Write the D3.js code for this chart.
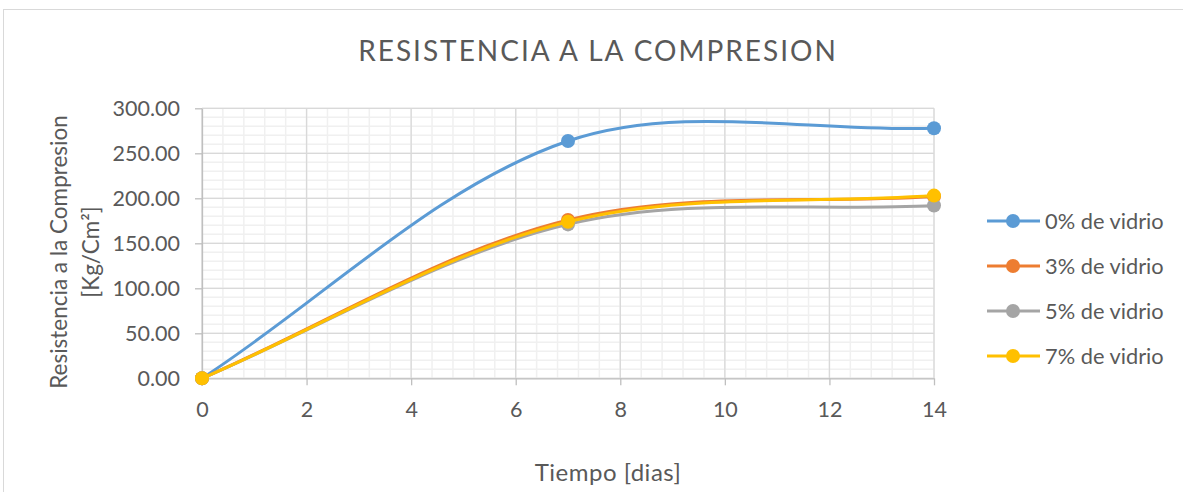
<!DOCTYPE html>
<html>
<head>
<meta charset="utf-8">
<script src="https://cdn.jsdelivr.net/npm/d3@7"></script>
<style>
  body { margin: 0; background: #fff; }
  text { font-family: Lato, 'Open Sans', sans-serif; fill: #595959; }
</style>
</head>
<body>
<div id="chart"></div>
<script>
// data
const dias = [0, 7, 14];
const vidrio0 = [0, 263.7, 277.8];
const vidrio3 = [0, 176, 202];
const vidrio5 = [0, 171, 192];
const vidrio7 = [0, 174, 203];
const seriesNames = ['0% de vidrio', '3% de vidrio', '5% de vidrio', '7% de vidrio'];
const seriesColors = ['#5B9BD5', '#ED7D31', '#A5A5A5', '#FFC000'];
const xTicks = [0, 2, 4, 6, 8, 10, 12, 14];
const yTicks = [0, 50, 100, 150, 200, 250, 300];

const width = 1183;
const height = 492;
const plot = { left: 202, right: 934, top: 108.3, bottom: 378.3 };

// spreadsheet-style smoothing: bezier control points scaled by chord lengths
function curveSmooth(context) {
  let pts;
  return {
    areaStart() {}, areaEnd() {},
    lineStart() { pts = []; },
    point(x, y) { pts.push([+x, +y]); },
    lineEnd() {
      const n = pts.length;
      if (!n) return;
      context.moveTo(pts[0][0], pts[0][1]);
      const f = 1 / 3;
      const dist = (a, b) => Math.hypot(b[0] - a[0], b[1] - a[1]);
      for (let i = 0; i < n - 1; i++) {
        const p0 = pts[i - 1] || pts[i], p1 = pts[i], p2 = pts[i + 1], p3 = pts[i + 2] || pts[i + 1];
        const d01 = dist(p0, p1), d12 = dist(p1, p2), d23 = dist(p2, p3);
        const s1 = f * d12 / (d01 + d12), s2 = f * d12 / (d12 + d23);
        context.bezierCurveTo(
          p1[0] + (p2[0] - p0[0]) * s1, p1[1] + (p2[1] - p0[1]) * s1,
          p2[0] - (p3[0] - p1[0]) * s2, p2[1] - (p3[1] - p1[1]) * s2,
          p2[0], p2[1]);
      }
    }
  };
}

const svg = d3.select('#chart')
  .append('svg')
  .attr('width', width)
  .attr('height', height);

// chart frame
svg.append('rect')
  .attr('x', 3.5).attr('y', 9.5)
  .attr('width', width + 10).attr('height', height + 10)
  .attr('fill', 'none')
  .attr('stroke', '#d9d9d9');

const xScale = d3.scaleLinear().domain([0, 14]).range([plot.left, plot.right]);
const yScale = d3.scaleLinear().domain([0, 300]).range([plot.bottom, plot.top]);

// minor grid
const grid = svg.append('g');
grid.selectAll('.vminor')
  .data(d3.range(0, 14.001, 0.4))
  .enter().append('line')
  .attr('x1', d => xScale(d)).attr('x2', d => xScale(d))
  .attr('y1', plot.top).attr('y2', plot.bottom)
  .attr('stroke', '#f0f0f0').attr('stroke-width', 1.5);
grid.selectAll('.hminor')
  .data(d3.range(0, 301, 10))
  .enter().append('line')
  .attr('y1', d => yScale(d)).attr('y2', d => yScale(d))
  .attr('x1', plot.left).attr('x2', plot.right)
  .attr('stroke', '#f0f0f0').attr('stroke-width', 1.5);

// major grid
grid.selectAll('.vmajor')
  .data(xTicks)
  .enter().append('line')
  .attr('x1', d => xScale(d)).attr('x2', d => xScale(d))
  .attr('y1', plot.top).attr('y2', plot.bottom)
  .attr('stroke', '#d9d9d9').attr('stroke-width', 1.3);
grid.selectAll('.hmajor')
  .data(yTicks)
  .enter().append('line')
  .attr('y1', d => yScale(d)).attr('y2', d => yScale(d))
  .attr('x1', plot.left).attr('x2', plot.right)
  .attr('stroke', '#d9d9d9').attr('stroke-width', 1.3);

// axes
const xAxis = svg.append('g')
  .attr('transform', `translate(0, ${plot.bottom})`)
  .call(d3.axisBottom(xScale).tickValues(xTicks).tickSize(7).tickSizeOuter(0).tickPadding(16));
const yAxis = svg.append('g')
  .attr('transform', `translate(${plot.left}, 0)`)
  .call(d3.axisLeft(yScale).tickValues(yTicks).tickSize(7).tickSizeOuter(0).tickPadding(15)
    .tickFormat(d3.format('.2f')));

[xAxis, yAxis].forEach(ax => {
  ax.select('.domain').attr('stroke', '#bfbfbf').attr('stroke-width', 1.3);
  ax.selectAll('.tick line').attr('stroke', '#bfbfbf').attr('stroke-width', 1.3);
  ax.selectAll('.tick text')
    .style('font-family', 'Lato, sans-serif')
    .style('font-size', '21.5px')
    .attr('fill', '#595959');
});
yAxis.selectAll('.tick text').attr('dy', '0.35em');

// series
const allSeries = [vidrio0, vidrio3, vidrio5, vidrio7];
const line = d3.line()
  .x((d, i) => xScale(dias[i]))
  .y(d => yScale(d))
  .curve(curveSmooth);

allSeries.forEach((vals, s) => {
  svg.append('path')
    .datum(vals)
    .attr('d', line)
    .attr('fill', 'none')
    .attr('stroke', seriesColors[s])
    .attr('stroke-width', 3)
    .attr('stroke-linecap', 'round');
  svg.selectAll('.dot' + s)
    .data(vals)
    .enter().append('circle')
    .attr('cx', (d, i) => xScale(dias[i]))
    .attr('cy', d => yScale(d))
    .attr('r', 7)
    .attr('fill', seriesColors[s]);
});

// title
svg.append('text')
  .attr('x', 598).attr('y', 61)
  .style('text-anchor', 'middle')
  .style('font-size', '28px')
  .style('letter-spacing', '2px')
  .text('RESISTENCIA A LA COMPRESION');

// axis titles
svg.append('text')
  .attr('x', 608).attr('y', 481)
  .style('text-anchor', 'middle')
  .style('font-size', '24px')
  .style('letter-spacing', '0.5px')
  .text('Tiempo [dias]');

const yTitle = svg.append('text')
  .attr('transform', 'translate(67, 252) rotate(-90)')
  .style('text-anchor', 'middle')
  .style('font-size', '22.5px');
yTitle.append('tspan').attr('x', 0).attr('y', 0).text('Resistencia a la Compresion');
yTitle.append('tspan').attr('x', 0).attr('y', 32).text('[Kg/Cm²]');

// legend
const legend = svg.append('g');
seriesNames.forEach((name, i) => {
  const ly = 221 + i * 45;
  legend.append('line')
    .attr('x1', 987).attr('x2', 1040).attr('y1', ly).attr('y2', ly)
    .attr('stroke', seriesColors[i]).attr('stroke-width', 3);
  legend.append('circle')
    .attr('cx', 1013).attr('cy', ly).attr('r', 7)
    .attr('fill', seriesColors[i]);
  legend.append('text')
    .attr('x', 1045).attr('y', ly)
    .attr('dy', '0.35em')
    .style('font-size', '21.8px')
    .text(name);
});
</script>
</body>
</html>
